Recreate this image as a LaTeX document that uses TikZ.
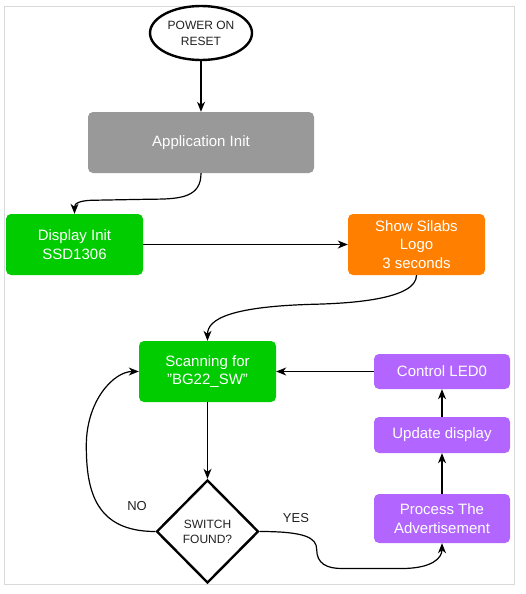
\documentclass[tikz,border=0pt]{standalone}
\usepackage{fontspec}
\setmainfont{Liberation Sans}
\usetikzlibrary{shapes.geometric,arrows.meta}
\definecolor{cgray}{HTML}{999999}
\definecolor{cgreen}{HTML}{00CC00}
\definecolor{corange}{HTML}{FF8000}
\definecolor{cpurple}{HTML}{B266FF}
\definecolor{cframe}{HTML}{D9D9D9}
\definecolor{ctext}{HTML}{222222}
\tikzset{
  box/.style={rectangle, rounded corners=5pt, draw=none, text=white, inner sep=0pt,
    align=center, font=\fontsize{15}{18.5}\selectfont},
  conn/.style={line width=1.2pt, -{Stealth[length=10pt,width=8pt,inset=3pt]}},
  lbl/.style={text=ctext, font=\fontsize{13}{15}\selectfont}
}
\begin{document}
\begin{tikzpicture}[x=1pt,y=-1pt]
\useasboundingbox (0,0) rectangle (526,594);
\fill[white] (0,0) rectangle (526,594);
\draw[cframe, line width=1pt] (4,7) rectangle (514,584);

\node[ellipse, draw=black, line width=2.4pt, fill=white, minimum width=102pt, minimum height=54pt, inner sep=0pt,
  align=center, text=ctext, font=\fontsize{12}{16}\selectfont] (por) at (201,33) {POWER ON\\RESET};

\node[box, fill=cgray, minimum width=226pt, minimum height=61pt] (app) at (201,142.5) {Application Init};
\node[box, fill=cgreen, minimum width=137pt, minimum height=61pt] (disp) at (74.5,244.5) {Display Init\\SSD1306};
\node[box, fill=corange, minimum width=137pt, minimum height=61pt] (logo) at (416.5,244.5) {Show Silabs\\Logo\\3 seconds};
\node[box, fill=cgreen, minimum width=137pt, minimum height=61pt] (scan) at (207.5,371.5) {Scanning for\\\symbol{34}BG22\_SW\symbol{34}};
\node[box, fill=cpurple, minimum width=136pt, minimum height=35pt] (led) at (442,371.5) {Control LED0};
\node[box, fill=cpurple, minimum width=136pt, minimum height=36pt] (upd) at (442,435) {Update display};
\node[box, fill=cpurple, minimum width=136pt, minimum height=49pt] (proc) at (442,518.5) {Process The\\Advertisement};

\node[diamond, draw=black, line width=2.4pt, fill=white, minimum width=102pt, minimum height=103pt, inner sep=0pt,
  align=center, text=ctext, font=\fontsize{12}{15}\selectfont] (dia) at (207.5,531.5) {SWITCH\\FOUND?};

\node[lbl] (no) at (137,506) {NO};
\node[lbl] (yes) at (296,518) {YES};

\draw[conn] (por.south) -- (app.north);
\draw[conn] (app.south) .. controls +(0,24) and +(30,0) .. ++(-50,26) -- ++(-55,1) .. controls +(-18,0) and +(0,-10) .. (disp.north);
\draw[conn] (disp.east) -- (logo.west);
\draw[conn] (logo.south) .. controls +(0,24) and +(35,-1) .. ++(-100,29) .. controls +(-85,2) and +(0,-22) .. (scan.north);
\draw[conn] (led.west) -- (scan.east);
\draw[conn] (upd.north) -- (led.south);
\draw[conn] (proc.north) -- (upd.south);
\draw[conn] (scan.south) -- (dia.north);
\draw[conn] (dia.west) .. controls +(-60,0) and +(0,45) .. ++(-69,-86) .. controls +(0,-45) and +(-25,0) .. (scan.west);
\draw[conn] (dia.east) .. controls +(45,0) and +(0,-12) .. ++(57,18) .. controls +(0,14) and +(-15,0) .. ++(25,19) -- ++(60,0) .. controls +(30,0) and +(0,15) .. (proc.south);
\end{tikzpicture}
\end{document}
